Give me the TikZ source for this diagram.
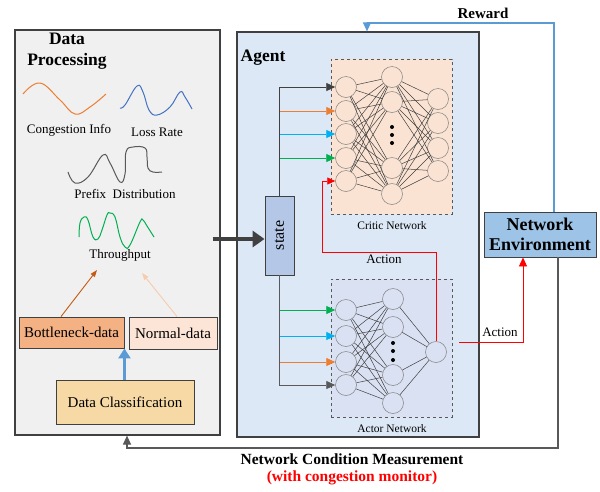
\documentclass[tikz,border=0pt]{standalone}
\usepackage{fontspec}
\setmainfont{Liberation Serif}
\usetikzlibrary{arrows.meta}
\definecolor{dpfill}{HTML}{F0F0F0}
\definecolor{agfill}{HTML}{DCE8F5}
\definecolor{crfill}{HTML}{FBE3D3}
\definecolor{acfill}{HTML}{D9E1F2}
\definecolor{stfill}{HTML}{B4C7E7}
\definecolor{nefill}{HTML}{9DC3E6}
\definecolor{bnfill}{HTML}{F4B183}
\definecolor{ndfill}{HTML}{FCE4D6}
\definecolor{dcfill}{HTML}{F6D9A5}
\definecolor{corange}{HTML}{ED7D31}
\definecolor{cdorange}{HTML}{C55A11}
\definecolor{cpeach}{HTML}{F8CBAD}
\definecolor{cblue}{HTML}{00B0F0}
\definecolor{cgreen}{HTML}{00B050}
\definecolor{cred}{HTML}{FF0000}
\definecolor{cmblue}{HTML}{5B9BD5}
\definecolor{ccurveblue}{HTML}{4472C4}
\definecolor{cline}{HTML}{404040}
\definecolor{cgray}{HTML}{595959}
\begin{document}
\begin{tikzpicture}[x=1pt,y=-1pt,
  panel/.style={draw=cline, line width=1.2pt, inner sep=0pt},
  netbox/.style={draw=cgray, dashed, line width=0.7pt, inner sep=0pt},
  tbox/.style={draw=cline, line width=0.9pt, inner sep=0pt, font=\fontsize{15}{17}\selectfont},
  neuron/.style={circle, draw=gray, line width=0.5pt, minimum size=21pt, inner sep=0pt},
  conn/.style={draw=black!75, line width=0.5pt},
  inarr/.style={line width=0.9pt, -{Triangle[length=9pt,width=8pt]}},
  lab/.style={font=\fontsize{13}{15}\selectfont, inner sep=0pt},
  small/.style={font=\fontsize{11.5}{13}\selectfont, inner sep=0pt},
  curve/.style={line width=1pt, smooth, tension=0.7},
  dot/.style={circle, fill=black, inner sep=0pt, minimum size=4pt}
]
\useasboundingbox (0,0) rectangle (600,491);
\fill[white] (0,0) rectangle (600,491);

% panels
\node[panel, fill=dpfill, minimum width=205pt, minimum height=405pt] (dp) at (117.5,232.5) {};
\node[panel, fill=agfill, minimum width=242pt, minimum height=405pt] (ag) at (358,234.5) {};
\node[netbox, fill=crfill, minimum width=121pt, minimum height=155pt] (cr) at (391.5,136.5) {};
\node[netbox, fill=acfill, minimum width=121pt, minimum height=138pt] (ac) at (391.5,348) {};

% titles
\node[font=\bfseries\fontsize{17.5}{21}\selectfont, align=center, inner sep=0pt] (dpt) at (67,51) {Data\\Processing};
\node[font=\bfseries\fontsize{17.5}{21}\selectfont, inner sep=0pt] (agt) at (263,58) {Agent};
\node[small] (crt) at (392,226) {Critic Network};
\node[small] (act) at (392,429) {Actor Network};

% curves
\draw[curve, corange] plot coordinates {(23,94) (40,83) (60,100) (75,114) (90,107) (106,94)};
\draw[curve, ccurveblue] plot coordinates {(120,108) (125,105) (137,86) (143,92) (149,110) (157,115) (170,107) (180,92) (185,97) (192,109)};
\draw[curve, cgray] plot coordinates {(68,172) (75,183) (88,177) (103,155) (110,163) (120,182) (125,174) (126,152) (133,147) (145,148) (147,157) (148,168) (153,172) (162,172)};
\draw[curve, cgreen] plot coordinates {(79,237) (80,223) (84,217) (88,220) (93,237) (98,239) (102,230) (107,215) (110,213) (115,217) (120,237) (125,247) (130,245) (140,222) (143,220) (147,226) (154,237)};
\node[lab] (ci) at (69,130) {Congestion Info};
\node[lab] (lr) at (157,132) {Loss Rate};
\node[lab] (pd) at (125,194) {Prefix\ \ Distribution};
\node[lab] (tp) at (120,255) {Throughput};

% data boxes
\node[tbox, fill=bnfill, minimum width=105pt, minimum height=31pt] (bn) at (71.5,332.5) {Bottleneck-data};
\node[tbox, fill=ndfill, minimum width=88pt, minimum height=32pt] (nd) at (173,333) {Normal-data};
\node[tbox, fill=dcfill, minimum width=138pt, minimum height=44pt] (dc) at (125,402) {Data Classification};
\coordinate (tp1) at (97,270);
\coordinate (tp2) at (142,273);
\draw[cdorange, line width=0.9pt, -{Triangle[length=7pt,width=5pt]}] ([xshift=-10.5pt]bn.north) -- (tp1);
\draw[cpeach, line width=0.9pt, -{Triangle[length=7pt,width=5pt]}] ([xshift=4pt]nd.north) -- (tp2);
\draw[cmblue, line width=3pt, -{Triangle[length=10pt,width=12pt]}] (dc.north -| bn.south east) -- (bn.south east);

% state
\node[draw=cline, line width=0.9pt, fill=stfill, minimum width=29pt, minimum height=79pt, inner sep=0pt] (st) at (279.5,235.5) {};
\node[rotate=90, font=\fontsize{16}{18}\selectfont, inner sep=0pt] (stt) at (st.center) {state};
\draw[cline, line width=4.5pt, -{Triangle[length=12pt,width=16pt]}] ([xshift=-8pt,yshift=-3.5pt]dp.east |- st.west) -- ([yshift=-3.5pt]st.west);

% critic network
\foreach \i/\y in {1/87,2/111,3/134,4/158,5/181} \node[neuron, fill=crfill] (c\i) at (346,\y) {};
\foreach \i/\y in {1/77,2/102,3/168,4/194} \node[neuron, fill=crfill] (h\i) at (392,\y) {};
\foreach \i/\y in {1/99,2/123,3/148,4/171} \node[neuron, fill=crfill] (o\i) at (438,\y) {};
\foreach \i in {1,...,5} \foreach \j in {1,...,4} \draw[conn] (c\i) -- (h\j);
\foreach \i in {1,...,4} \foreach \j in {1,...,4} \draw[conn] (h\i) -- (o\j);
\foreach \i/\y in {1/127,2/135,3/143} \node[dot] (cd\i) at (392,\y) {};

% actor network
\foreach \i/\y in {1/310,2/336,3/362,4/385} \node[neuron, fill=acfill] (a\i) at (346,\y) {};
\foreach \i/\y in {1/299,2/327,3/375,4/403} \node[neuron, fill=acfill] (ah\i) at (393,\y) {};
\node[neuron, fill=acfill] (ao) at (436,352) {};
\foreach \i in {1,...,4} \foreach \j in {1,...,4} \draw[conn] (a\i) -- (ah\j);
\foreach \i in {1,...,4} \draw[conn] (ah\i) -- (ao);
\foreach \i/\y in {1/343,2/351,3/360} \node[dot] (ad\i) at (393,\y) {};

% state inputs
\draw[inarr, cline] (st.north) |- (c1.west);
\draw[inarr, corange] (st.north |- c2.west) -- (c2.west);
\draw[inarr, cblue] (st.north |- c3.west) -- (c3.west);
\draw[inarr, cgreen] (st.north |- c4.west) -- (c4.west);
\draw[inarr, cgray] (st.south) |- (a4.west);
\draw[inarr, cgreen] (st.south |- a1.west) -- (a1.west);
\draw[inarr, cblue] (st.south |- a2.west) -- (a2.west);
\draw[inarr, corange] (st.south |- a3.west) -- (a3.west);

% action feedback
\coordinate (r1) at (322,252);
\draw[cred, line width=0.9pt, -{Triangle[length=8pt,width=7pt]}] (ao.north) |- (r1) |- (c5.west);
\node[lab] (al1) at (384,259) {Action};

% network environment
\node[draw=cline, line width=0.9pt, fill=nefill, minimum width=112pt, minimum height=45pt, inner sep=0pt, align=center, font=\bfseries\fontsize{18}{20}\selectfont] (ne) at (540,234.5) {Network\\Environment};
\coordinate (r2) at (459,342);
\draw[cred, line width=0.9pt, -{Triangle[length=9pt,width=8pt]}] (r2) -| ([xshift=-17pt]ne.south);
\node[lab] (al2) at (500,332) {Action};

% reward
\coordinate (rw) at (367,23);
\draw[cmblue, line width=1.2pt, -{Triangle[length=9pt,width=8pt]}] ([xshift=14pt]ne.north) |- (rw) -- (rw |- ag.north);
\node[font=\bfseries\fontsize{15}{17}\selectfont, inner sep=0pt] (rwt) at (483,13) {Reward};

% measurement
\coordinate (mb) at (127,448);
\draw[cgray, line width=1.2pt, -{Triangle[length=9pt,width=8pt]}] ([xshift=18pt]ne.south) |- (mb) -- (mb |- dp.south);
\node[font=\bfseries\fontsize{15.5}{17}\selectfont, inner sep=0pt] (ncm) at (352,459) {Network Condition Measurement};
\node[font=\bfseries\fontsize{15.5}{17}\selectfont, text=cred, inner sep=0pt] (wcm) at (352,478) {(with congestion monitor)};
\end{tikzpicture}
\end{document}
